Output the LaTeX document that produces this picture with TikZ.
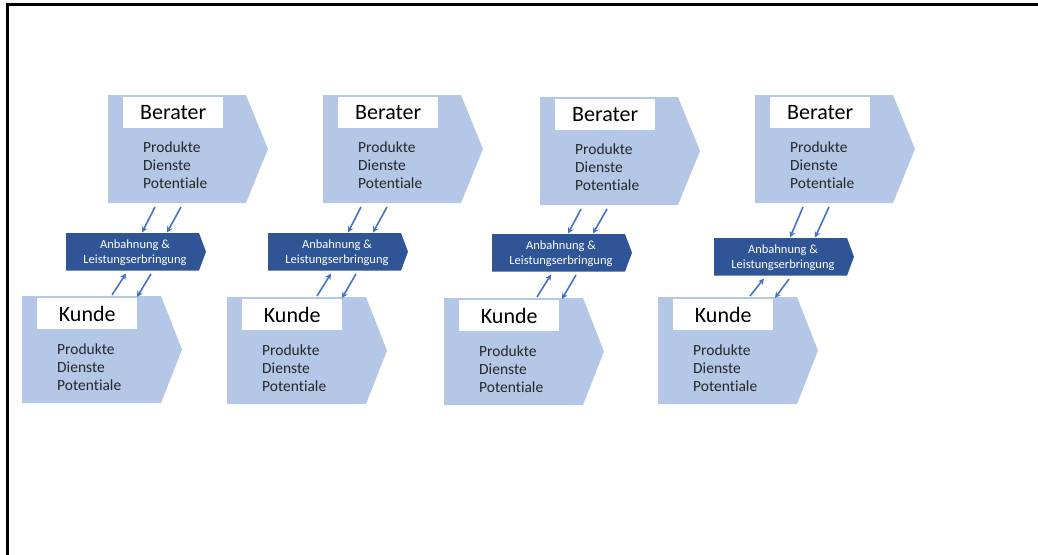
\documentclass[tikz,border=0pt]{standalone}
\usepackage{fontspec}
\setmainfont{Carlito}[Ligatures={NoCommon}]
\usetikzlibrary{arrows.meta}
\definecolor{chevlight}{HTML}{B4C7E7}
\definecolor{chevdark}{HTML}{2F5597}
\definecolor{arrowblue}{HTML}{4472C4}
\definecolor{txtgray}{HTML}{262626}
\tikzset{
  lightchev/.style={fill=chevlight},
  darkchev/.style={fill=chevdark},
  labelbox/.style={fill=white, minimum width=100pt, minimum height=31pt, inner sep=0pt, anchor=north west, font=\fontsize{22}{26}\selectfont, text=black},
  bodytext/.style={anchor=west, inner sep=0pt, align=left, font=\fontsize{15.5}{18}\selectfont, text=txtgray},
  anbtext/.style={inner sep=0pt, align=center, font=\fontsize{12.5}{15}\selectfont, text=white},
  flow/.style={draw=arrowblue, line width=1.6pt, -{Stealth[length=6pt,width=6pt]}},
  framestyle/.style={line width=3pt, black}
}
\newcommand\chevronshape[6]{\fill[#6] (#1,#2) -- ({#1+#3},#2) -- ({#1+#3+#4},{#2+#5/2}) -- ({#1+#3},{#2+#5}) -- (#1,{#2+#5}) -- cycle;}
\begin{document}
\begin{tikzpicture}[x=1pt,y=-1pt]
\useasboundingbox (0,0) rectangle (1038,554);
\draw[framestyle] (1040,4) -- (7,4) -- (7,556);
\foreach \g/\bx/\by/\ax/\ay/\kx/\ky/\u/\ds in {1/108/95/66/233/22/296/46/0, 2/323/95/268/233/227/297/49/4, 3/540/97/492/234/444/298/45/0, 4/755/95/714/238/658/297/36/0} {
  % Berater
  \chevronshape{\bx}{\by}{138}{22}{108}{lightchev}
  \node[labelbox] (BL\g) at ({\bx+15},{\by+2}) {Berater};
  \node[bodytext] (BT\g) at ({\bx+35},{\by+70}) {Produkte\\Dienste\\Potentiale};
  % Anbahnung
  \chevronshape{\ax}{\ay}{133}{7}{37.5}{darkchev}
  \node[anbtext] (AT\g) at ({\ax+69},{\ay+19.5}) {Anbahnung \&\\Leistungserbringung};
  % Kunde
  \chevronshape{\kx}{\ky}{139}{21}{107}{lightchev}
  \node[labelbox] (KL\g) at ({\kx+15},{\ky+2}) {Kunde};
  \node[bodytext] (KT\g) at ({\kx+35},{\ky+71}) {Produkte\\Dienste\\Potentiale};
  % arrow end points
  \coordinate (d1s\g) at ({\ax+89+\ds},{\by+112});
  \coordinate (d1e\g) at ({\ax+76+\ds},{\ay-0.5});
  \coordinate (d2s\g) at ({\ax+115+\ds},{\by+112});
  \coordinate (d2e\g) at ({\ax+101+\ds},{\ay-0.5});
  \coordinate (us\g) at ({\ax+\u},{\ky-1});
  \coordinate (ue\g) at ({\ax+\u+14},{\ay+40.5});
  \coordinate (ds\g) at ({\ax+\u+39},{\ay+41});
  \coordinate (de\g) at ({\ax+\u+25},{\ky+1});
  \draw[flow] (d1s\g) -- (d1e\g);
  \draw[flow] (d2s\g) -- (d2e\g);
  \draw[flow] (us\g) -- (ue\g);
  \draw[flow] (ds\g) -- (de\g);
}
\end{tikzpicture}
\end{document}
